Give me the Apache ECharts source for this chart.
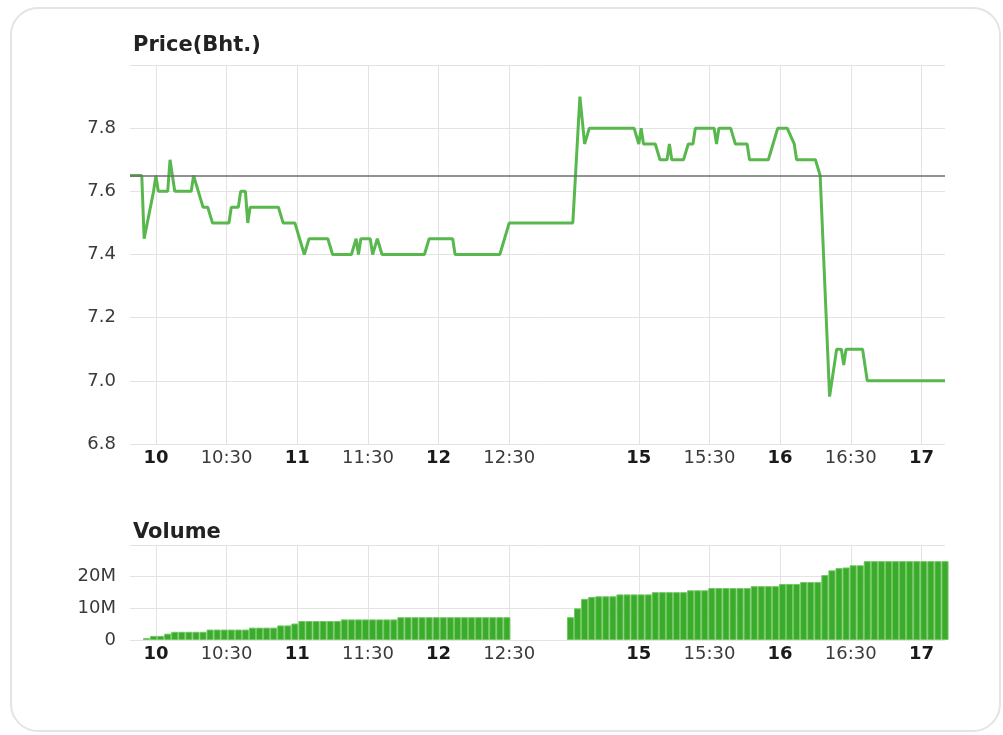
<!DOCTYPE html>
<html>
<head>
<meta charset="utf-8">
<title>Price / Volume</title>
<script src="https://cdn.jsdelivr.net/npm/echarts@6/dist/echarts.min.js"></script>
<style>
  html, body { margin: 0; padding: 0; background: #fff; }
  #frame { position: absolute; left: 10px; top: 7px; width: 991px; height: 725px;
           border: 2px solid #e4e4e4; border-radius: 28px; box-sizing: border-box; }
  #chart { position: absolute; left: 0; top: 0; width: 1003px; height: 735px; }
</style>
</head>
<body>
<div id="frame"></div>
<div id="chart"></div>
<script>
// axis ticks (session times), whole hours are drawn bold
const tickTimes = ['10:00', '10:30', '11:00', '11:30', '12:00', '12:30', '15:00', '15:30', '16:00', '16:30', '17:00']
const tickLabels = ['10', '10:30', '11', '11:30', '12', '12:30', '15', '15:30', '16', '16:30', '17']

// intraday price (Bht.)
const priceTimes = [
	'09:49', '09:54', '09:55', '09:59', '10:00', '10:01', '10:05', '10:06', '10:08', '10:15',
	'10:16', '10:18', '10:20', '10:22', '10:24', '10:31', '10:32', '10:35', '10:36', '10:38',
	'10:39', '10:40', '10:52', '10:54', '10:59', '11:01', '11:03', '11:05', '11:13', '11:15',
	'11:23', '11:25', '11:26', '11:27', '11:31', '11:32', '11:34', '11:36', '11:54', '11:56',
	'12:06', '12:07', '12:26', '12:30',
	'14:32', '14:35', '14:37', '14:39', '14:58', '15:00', '15:01', '15:02', '15:07', '15:09',
	'15:12', '15:13', '15:14', '15:19', '15:21', '15:23', '15:24', '15:32', '15:33', '15:34',
	'15:39', '15:41', '15:46', '15:47', '15:55', '15:57', '15:59', '16:03', '16:06', '16:07',
	'16:15', '16:17', '16:21', '16:24', '16:26', '16:27', '16:28', '16:35', '16:37', '17:10'
]
const prices = [
	7.65, 7.65, 7.45, 7.6, 7.65, 7.6, 7.6, 7.7, 7.6, 7.6,
	7.65, 7.6, 7.55, 7.55, 7.5, 7.5, 7.55, 7.55, 7.6, 7.6,
	7.5, 7.55, 7.55, 7.5, 7.5, 7.45, 7.4, 7.45, 7.45, 7.4,
	7.4, 7.45, 7.4, 7.45, 7.45, 7.4, 7.45, 7.4, 7.4, 7.45,
	7.45, 7.4, 7.4, 7.5,
	7.5, 7.9, 7.75, 7.8, 7.8, 7.75, 7.8, 7.75, 7.75, 7.7,
	7.7, 7.75, 7.7, 7.7, 7.75, 7.75, 7.8, 7.8, 7.75, 7.8,
	7.8, 7.75, 7.75, 7.7, 7.7, 7.75, 7.8, 7.8, 7.75, 7.7,
	7.7, 7.65, 6.95, 7.1, 7.1, 7.05, 7.1, 7.1, 7.0, 7.0
]
const prevClose = 7.65

// accumulated volume (millions), one bar every 3 minutes
const amStart = '09:56'
const amVolume = [
	0.6, 1.3, 1.3, 2.0, 2.6, 2.6, 2.6, 2.6, 2.6, 3.3,
	3.3, 3.3, 3.3, 3.3, 3.3, 3.9, 3.9, 3.9, 3.9, 4.6,
	4.6, 5.2, 6.0, 6.0, 6.0, 6.0, 6.0, 6.0, 6.5, 6.5,
	6.5, 6.5, 6.5, 6.5, 6.5, 6.5, 7.2, 7.2, 7.2, 7.2,
	7.2, 7.2, 7.2, 7.2, 7.2, 7.2, 7.2, 7.2, 7.2, 7.2,
	7.2, 7.2
]
const pmStart = '14:31'
const pmVolume = [
	7.2, 10.0, 13.0, 13.6, 13.8, 13.8, 13.8, 14.4, 14.4, 14.4,
	14.4, 14.4, 15.1, 15.1, 15.1, 15.1, 15.1, 15.7, 15.7, 15.7,
	16.4, 16.4, 16.4, 16.4, 16.4, 16.4, 17.0, 17.0, 17.0, 17.0,
	17.7, 17.7, 17.7, 18.3, 18.3, 18.3, 20.5, 22.0, 22.7, 22.9,
	23.6, 23.6, 24.9, 24.9, 24.9, 24.9, 24.9, 24.9, 24.9, 24.9,
	24.9, 24.9, 24.9, 24.9
]

// minutes from 10:00, lunch break (12:30-14:30) squeezed to 25 minutes
function toAxis(t) {
	const [h, m] = t.split(':').map(Number)
	let v = h * 60 + m - 600
	if (v > 150) v -= 95
	return v
}

const tickValues = tickTimes.map(toAxis)
const font = 'DejaVu Sans'

function timeAxis(gridIndex) {
	return {
		type: 'value',
		gridIndex: gridIndex,
		min: toAxis('09:49'),
		max: toAxis('17:10'),
		axisLine: { show: false },
		axisTick: { show: false, customValues: tickValues },
		splitLine: { show: true, lineStyle: { color: '#e3e3e3', width: 1 } },
		axisLabel: {
			customValues: tickValues,
			margin: 5,
			formatter: function (v) {
				const i = tickValues.indexOf(v)
				if (i < 0) return ''
				const s = tickLabels[i]
				return s.indexOf(':') < 0 ? '{b|' + s + '}' : '{n|' + s + '}'
			},
			rich: {
				b: { fontFamily: font, fontSize: 18, fontWeight: 'bold', color: '#1a1a1a' },
				n: { fontFamily: font, fontSize: 18, color: '#3a3a3a' }
			}
		}
	}
}

const chart = echarts.init(document.getElementById('chart'))
chart.setOption({
	animation: false,
	backgroundColor: 'transparent',
	title: [
		{
			text: 'Price(Bht.)', left: 128, top: 30,
			textStyle: { fontFamily: font, fontSize: 21, fontWeight: 'bold', color: '#222' }
		},
		{
			text: 'Volume', left: 128, top: 517,
			textStyle: { fontFamily: font, fontSize: 21, fontWeight: 'bold', color: '#222' }
		}
	],
	grid: [
		{ left: 130, right: 58, top: 65, height: 379 },
		{ left: 130, right: 58, top: 545, height: 95 }
	],
	xAxis: [timeAxis(0), timeAxis(1)],
	yAxis: [
		{
			type: 'value',
			gridIndex: 0,
			min: 6.8,
			max: 8.0,
			interval: 0.2,
			axisLine: { show: false },
			axisTick: { show: false },
			splitLine: { lineStyle: { color: '#e3e3e3', width: 1 } },
			axisLabel: {
				margin: 14,
				fontFamily: font, fontSize: 18, color: '#3a3a3a',
				formatter: v => (v >= 7.99 ? '' : v.toFixed(1))
			}
		},
		{
			type: 'value',
			gridIndex: 1,
			min: 0,
			max: 30,
			interval: 10,
			axisLine: { show: false },
			axisTick: { show: false },
			splitLine: { lineStyle: { color: '#e3e3e3', width: 1 } },
			axisLabel: {
				margin: 14,
				fontFamily: font, fontSize: 18, color: '#3a3a3a',
				formatter: v => (v === 0 ? '0' : v >= 30 ? '' : v + 'M')
			}
		}
	],
	series: [
		{
			name: 'price',
			type: 'line',
			xAxisIndex: 0,
			yAxisIndex: 0,
			symbol: 'none',
			lineStyle: { color: '#58b84e', width: 3 },
			data: priceTimes.map((t, i) => [toAxis(t), prices[i]]),
			markLine: {
				silent: true,
				symbol: ['none', 'none'],
				label: { show: false },
				lineStyle: { color: '#6e6e6e', width: 1.5, type: 'solid' },
				data: [{ yAxis: prevClose }]
			},
			z: 3
		},
		{
			name: 'volume',
			type: 'bar',
			xAxisIndex: 1,
			yAxisIndex: 1,
			barWidth: 7.1,
			itemStyle: { color: '#3aab2b', borderColor: '#72c763', borderWidth: 1 },
			data: amVolume.map((v, i) => [toAxis(amStart) + 3 * i, v])
				.concat(pmVolume.map((v, i) => [toAxis(pmStart) + 3 * i, v]))
		}
	]
})
</script>
</body>
</html>
